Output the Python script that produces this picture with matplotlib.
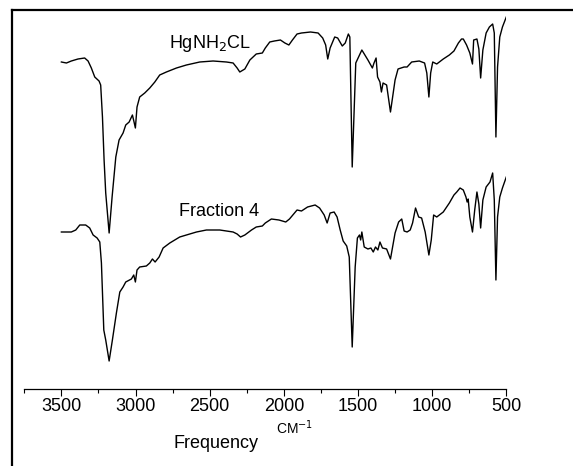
import matplotlib
matplotlib.use("Agg")
import matplotlib.pyplot as plt
from matplotlib.lines import Line2D
from matplotlib.ticker import MultipleLocator

plt.rcParams['font.family'] = ['Liberation Sans', 'DejaVu Sans']

# IR spectra, wavenumber (cm-1) and offset transmittance (a.u.)
top_wn = [3500, 3466, 3433, 3388, 3343, 3320, 3298, 3275, 3246, 3235,
          3223, 3212, 3201, 3178, 3158, 3133, 3111, 3084, 3066, 3043,
          3021, 3010, 3001, 2990, 2972, 2938, 2904, 2870, 2837, 2792,
          2724, 2657, 2567, 2477, 2387, 2342, 2315, 2297, 2263, 2229,
          2186, 2145, 2125, 2095, 2064, 2023, 1993, 1966, 1942, 1911,
          1881, 1820, 1769, 1738, 1718, 1704, 1688, 1657, 1637, 1606,
          1586, 1565, 1555, 1539, 1515, 1474, 1433, 1403, 1392, 1378,
          1368, 1352, 1342, 1331, 1307, 1281, 1250, 1230, 1189, 1169,
          1138, 1087, 1051, 1036, 1022, 1010, 996, 969, 925, 884,
          853, 823, 802, 790, 768, 746, 728, 720, 698, 685,
          673, 658, 636, 614, 592, 581, 570, 559, 544, 526,
          500]
top_v = [327, 326, 328, 330, 331, 328, 321, 312, 308, 304,
         272, 229, 196, 156, 192, 232, 249, 256, 264, 267,
         274, 267, 261, 282, 292, 296, 301, 307, 314, 317,
         321, 324, 327, 328, 327, 326, 321, 317, 320, 329,
         335, 336, 341, 347, 348, 349, 346, 344, 349, 355,
         356, 357, 356, 351, 344, 330, 341, 352, 351, 343,
         346, 355, 352, 222, 326, 339, 329, 321, 326, 331,
         312, 307, 297, 306, 304, 277, 309, 320, 322, 322,
         327, 328, 326, 316, 292, 316, 327, 325, 330, 334,
         338, 346, 350, 350, 344, 336, 325, 349, 350, 340,
         311, 339, 356, 362, 365, 356, 252, 322, 352, 362,
         372]

bot_wn = [3500, 3466, 3433, 3403, 3376, 3336, 3309, 3286, 3259, 3241,
          3230, 3214, 3201, 3178, 3156, 3129, 3106, 3084, 3066, 3028,
          3012, 3001, 2990, 2972, 2927, 2904, 2886, 2868, 2841, 2814,
          2769, 2702, 2657, 2589, 2522, 2432, 2342, 2315, 2292, 2263,
          2218, 2186, 2145, 2125, 2084, 2033, 1987, 1962, 1911, 1881,
          1840, 1789, 1759, 1728, 1708, 1688, 1661, 1641, 1620, 1600,
          1576, 1559, 1539, 1519, 1504, 1490, 1482, 1474, 1458, 1433,
          1413, 1397, 1382, 1366, 1352, 1335, 1307, 1281, 1250, 1226,
          1205, 1189, 1169, 1148, 1132, 1112, 1091, 1071, 1047, 1022,
          1006, 990, 969, 925, 884, 853, 834, 812, 790, 772,
          764, 757, 746, 728, 713, 698, 685, 673, 658, 636,
          610, 592, 581, 570, 559, 544, 526, 500]
bot_v = [157, 157, 157, 159, 164, 164, 161, 154, 151, 147,
         126, 59, 49, 28, 49, 76, 97, 102, 107, 110,
         114, 107, 119, 122, 123, 126, 130, 127, 132, 141,
         146, 152, 154, 157, 159, 159, 157, 155, 152, 154,
         159, 162, 163, 166, 170, 169, 167, 170, 179, 178,
         182, 184, 181, 174, 166, 176, 177, 172, 159, 148,
         143, 132, 42, 122, 151, 154, 149, 157, 142, 140,
         141, 137, 142, 139, 147, 141, 140, 130, 156, 167,
         170, 158, 157, 159, 166, 181, 172, 171, 157, 134,
         149, 174, 172, 177, 186, 194, 197, 201, 199, 192,
         187, 190, 172, 157, 179, 197, 185, 161, 189, 202,
         207, 216, 189, 109, 172, 192, 201, 212]

W, H = 573, 466
fig = plt.figure(figsize=(W / 100, H / 100), dpi=100)
ax = fig.add_axes([24.3 / W, 1 - 389 / H, 482 / W, 379 / H])

ax.plot(top_wn, top_v, color='black', lw=1.0)
ax.plot(bot_wn, bot_v, color='black', lw=1.0)

ax.set_xlim(3750, 500)
ax.set_ylim(0, 379)
for s in ['top', 'left', 'right']:
    ax.spines[s].set_visible(False)
ax.spines['bottom'].set_linewidth(0.9)
ax.set_yticks([])
ax.xaxis.set_major_locator(MultipleLocator(500))
ax.xaxis.set_minor_locator(MultipleLocator(250))
ax.tick_params(axis='x', which='major', direction='out', length=5, width=0.8, labelsize=13, pad=1.5)
ax.tick_params(axis='x', which='minor', direction='out', length=3, width=0.8)

# spectrum labels
ax.text(2500, 389 - 43, 'HgNH$_2$CL', fontsize=13, ha='center', va='center')
ax.text(2440, 389 - 211, 'Fraction 4', fontsize=13, ha='center', va='center')

# axis title
fig.text(216 / W, 1 - 443 / H, 'Frequency', fontsize=13, ha='center', va='center')
fig.text(295 / W, 1 - 428 / H, 'CM$^{-1}$', fontsize=10, ha='center', va='center')

# outer frame (top and left edges)
fig.add_artist(Line2D([12 / W, 1], [1 - 10 / H, 1 - 10 / H], color='black', lw=1.6))
fig.add_artist(Line2D([12 / W, 12 / W], [0, 1 - 10 / H], color='black', lw=1.6))

fig.savefig('out.png', dpi=100)
